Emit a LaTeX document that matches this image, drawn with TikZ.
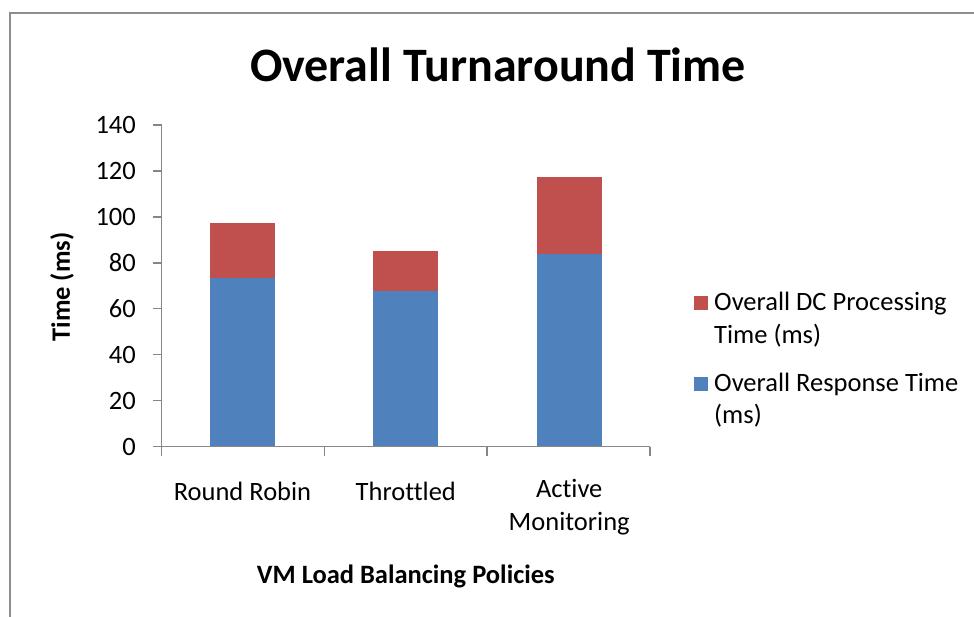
\documentclass[tikz,border=0pt]{standalone}
\usepackage{fontspec}
\setmainfont[RawFeature=-liga]{Carlito}
\definecolor{seriesblue}{HTML}{4F81BD}
\definecolor{seriesred}{HTML}{C0504D}
\definecolor{axisgray}{HTML}{868686}
\definecolor{framegray}{HTML}{8E8E8E}
\begin{document}
\begin{tikzpicture}[x=1pt,y=-1pt,
  lbl/.style={inner sep=0pt,font=\fontsize{26.5}{32.5}\selectfont},
  boldlbl/.style={inner sep=0pt,font=\fontsize{26.5}{32.5}\selectfont\bfseries},
  axisline/.style={draw=axisgray,line width=1.3pt},
  bluebar/.style={fill=seriesblue},
  redbar/.style={fill=seriesred}]
\useasboundingbox (0,0) rectangle (974,617);
% chart frame, running off the right and bottom edges
\begin{scope}
\clip (0,0) rectangle (974,617);
\draw[framegray,line width=2.5pt] (10,13) rectangle (990,640);
\end{scope}

% title
\node[inner sep=0pt,font=\fontsize{48}{54}\selectfont\bfseries] (title) at (498,65) {Overall Turnaround Time};

% value axis: y(v) = 446.7 - 2.298 v
\coordinate (yorig) at (161.7,446.7);
\coordinate (ytop) at (161.7,125);
\draw[axisline] (yorig) -- (ytop);
\foreach \v in {0,20,...,140}{
  \draw[axisline] (152.7,{446.7-2.298*\v}) -- (161.7,{446.7-2.298*\v});
  \node[lbl,anchor=east] (tick\v) at (136,{446.7-2.298*\v}) {\v};
}

% bars (stacked)
\fill[bluebar] (210,446.7) rectangle (275,{446.7-2.298*73.5});
\fill[redbar]  (210,{446.7-2.298*73.5}) rectangle (275,{446.7-2.298*97.2});
\fill[bluebar] (373.3,446.7) rectangle (438.3,{446.7-2.298*67.8});
\fill[redbar]  (373.3,{446.7-2.298*67.8}) rectangle (438.3,{446.7-2.298*85.2});
\fill[bluebar] (536.7,446.7) rectangle (601.7,{446.7-2.298*83.8});
\fill[redbar]  (536.7,{446.7-2.298*83.8}) rectangle (601.7,{446.7-2.298*117.4});

% category axis
\coordinate (xend) at (650,446.7);
\draw[axisline] (yorig) -- (xend);
\foreach \x in {161.7,324.3,487,650}{
  \draw[axisline] (\x,446.7) -- (\x,455.5);
}
\node[lbl] (catrr) at (242.5,491) {Round Robin};
\node[lbl] (catth) at (405.8,491) {Throttled};
\node[lbl,align=center] (catam) at (569.2,507) {Active\\Monitoring};

% axis titles
\node[boldlbl,rotate=90] (ytitle) at (62,287) {Time (ms)};
\node[boldlbl] (xtitle) at (405.8,576) {VM Load Balancing Policies};

% legend
\fill[redbar]  (694,296) rectangle (708,310);
\node[lbl,anchor=west,align=left] (legred) at (714,319.5) {Overall DC Processing\\Time (ms)};
\fill[bluebar] (694,377) rectangle (708,391);
\node[lbl,anchor=west,align=left] (legblue) at (714,400) {Overall Response Time\\(ms)};
\end{tikzpicture}
\end{document}
